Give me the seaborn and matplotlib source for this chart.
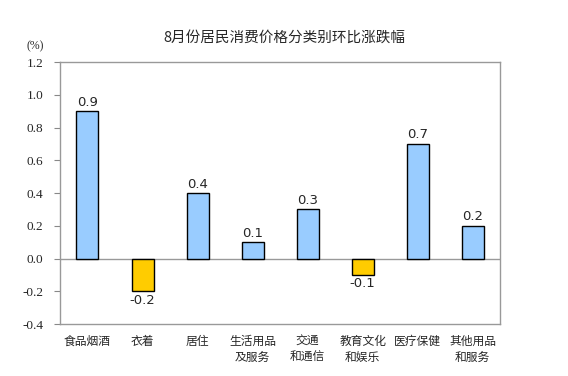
import seaborn as sns
import matplotlib.pyplot as plt
import pandas as pd

categories = ["食品烟酒", "衣着", "居住", "生活用品\n及服务", "交通\n和通信",
              "教育文化\n和娱乐", "医疗保健", "其他用品\n和服务"]
values = [0.9, -0.2, 0.4, 0.1, 0.3, -0.1, 0.7, 0.2]
y_ticks = [-0.4, -0.2, 0.0, 0.2, 0.4, 0.6, 0.8, 1.0, 1.2]

df = pd.DataFrame({"category": categories, "value": values})
colors = ["#99CCFF" if v >= 0 else "#FFCC00" for v in values]

sns.set_style("white")
plt.rcParams["font.family"] = ["Noto Sans CJK SC", "DejaVu Sans"]

fig = plt.figure(figsize=(5.68, 3.76), dpi=100)
ax = fig.add_axes([0.1056, 0.138, 0.775, 0.697])

sns.barplot(data=df, x="category", y="value", hue="category", palette=colors,
            legend=False, width=0.4, saturation=1, edgecolor="black",
            linewidth=1.0, ax=ax)

ax.axhline(0, color="#999999", linewidth=1.0, zorder=0)
ax.set_ylim(-0.4, 1.2)
ax.set_xlim(-0.5, len(categories) - 0.5)
ax.set_yticks(y_ticks)
ax.set_yticklabels([f"{t:.1f}" for t in y_ticks], family="Liberation Serif", fontsize=9.5)
ax.tick_params(axis="y", left=True, length=4, width=0.8, color="#888888", pad=8)
ax.tick_params(axis="x", bottom=False, labelsize=8.5, pad=4)
for lbl in ax.get_xticklabels():
    lbl.set_linespacing(1.3)
ax.set_xlabel("")
ax.set_ylabel("")
for s in ax.spines.values():
    s.set_color("#999999")
    s.set_linewidth(1.0)

for i, v in enumerate(values):
    off = 0.015 if v >= 0 else -0.015
    ax.text(i, v + off, f"{v:.1f}", ha="center", va="bottom" if v >= 0 else "top",
            fontsize=9.5, family="DejaVu Sans")

fig.text(0.5, 0.9, "8月份居民消费价格分类别环比涨跌幅", ha="center", va="center",
         fontsize=10.5)
fig.text(0.062, 0.878, "(%)", ha="center", va="center", fontsize=8.5,
         family="Liberation Serif")

fig.savefig("out.png", dpi=100)
